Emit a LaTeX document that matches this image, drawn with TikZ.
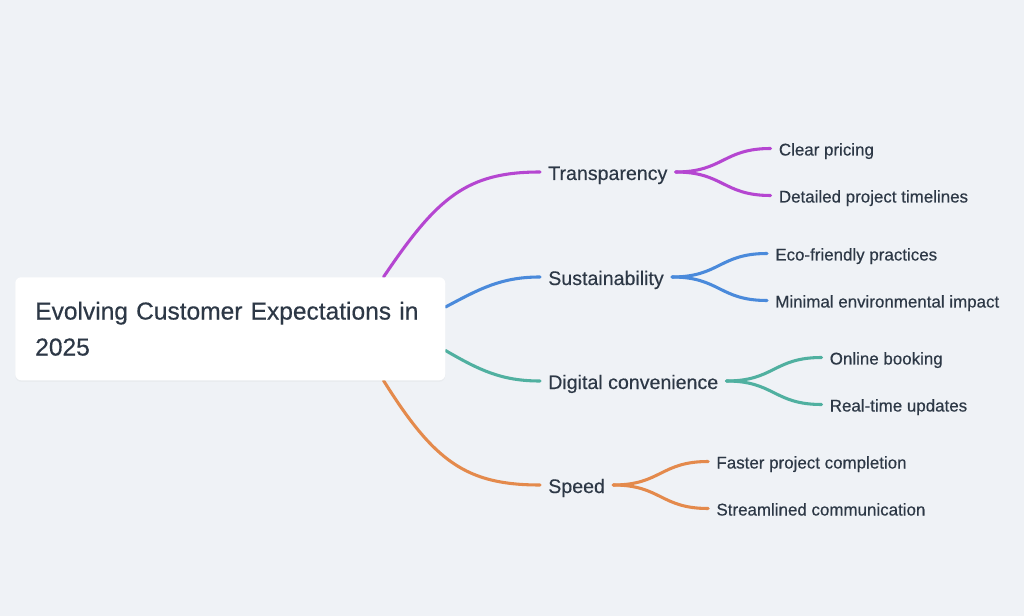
\documentclass[tikz,border=0pt]{standalone}
\usepackage{fontspec}
\setmainfont[FakeBold=0.4,AutoFakeBold=0.4]{Liberation Sans}
\usetikzlibrary{positioning,calc,shadows}
\pgfdeclarelayer{back}
\pgfsetlayers{back,main}
\definecolor{paper}{HTML}{EFF2F6}
\definecolor{ink}{HTML}{2D3846}
\definecolor{cpurple}{HTML}{B546D1}
\definecolor{cblue}{HTML}{4A8ADB}
\definecolor{cteal}{HTML}{50B0A0}
\definecolor{corange}{HTML}{E48A4C}

\begin{document}
\begin{tikzpicture}[x=0.75pt,y=-0.75pt,
	edge/.style={line width=2.3pt,line cap=round},
	topic/.style={anchor=west,inner xsep=6pt,inner ysep=0pt,% 
		text height=12pt,text depth=0pt,text=ink,% 
		font=\fontsize{14.7}{17}\bfseries},
	leaf/.style={topic,text height=10.5pt,font=\fontsize{12.7}{15}\bfseries},
	root/.style={anchor=north west,fill=white,rounded corners=4.5pt,% 
		minimum width=322.5pt,minimum height=77.25pt,inner xsep=15pt,% 
		align=left,text width=292.5pt,text=ink,% 
		font=\fontsize{18.4}{27}\bfseries,% 
		drop shadow={opacity=0.05,shadow xshift=0pt,shadow yshift=-1.2pt}}]
	\useasboundingbox (0,0) rectangle (1024,616);
	\begin{pgfonlayer}{back}
		\fill[paper] (0,0) rectangle (1024,616);
	\end{pgfonlayer}
	
	% centre
	\node[root] (root) at (15,277) {Evolving Customer Expectations in\\2025};
	
	% main topics
	\node[topic] (trans) at (540,172) {Transparency};
	\node[topic] (sust)  at (540,277) {Sustainability};
	\node[topic] (digi)  at (540,381) {Digital convenience};
	\node[topic] (speed) at (540,485) {Speed};
	
	\begin{pgfonlayer}{back}
		\draw[edge,cpurple] ($(root.north east)+(-62,0)$) to[out=56,in=180,out looseness=1.3] (trans.west);
		\draw[edge,cblue] ($(root.north east)+(0,30)$) to[out=28,in=180] (sust.west);
		\draw[edge,cteal] ($(root.south east)+(0,-30)$) to[out=-30,in=180] (digi.west);
		\draw[edge,corange] ($(root.south east)+(-62,0)$) to[out=-58,in=180,out looseness=1.3] (speed.west);
	\end{pgfonlayer}
	
	% details
	\foreach \t/\c/\a/\b in {trans/cpurple/Clear pricing/Detailed project timelines,
		sust/cblue/Eco-friendly practices/Minimal environmental impact,
		digi/cteal/Online booking/Real-time updates,
		speed/corange/Faster project completion/Streamlined communication}{
		\node[leaf] (\t-a) at ($(\t.east)+(95,-23.5)$) {\a};
		\node[leaf] (\t-b) at ($(\t.east)+(95,23.5)$) {\b};
		\begin{pgfonlayer}{back}
			\draw[edge,\c] (\t.east) to[out=0,in=180,looseness=1.25] (\t-a.west);
			\draw[edge,\c] (\t.east) to[out=0,in=180,looseness=1.25] (\t-b.west);
		\end{pgfonlayer}
	}
\end{tikzpicture}
\end{document}
